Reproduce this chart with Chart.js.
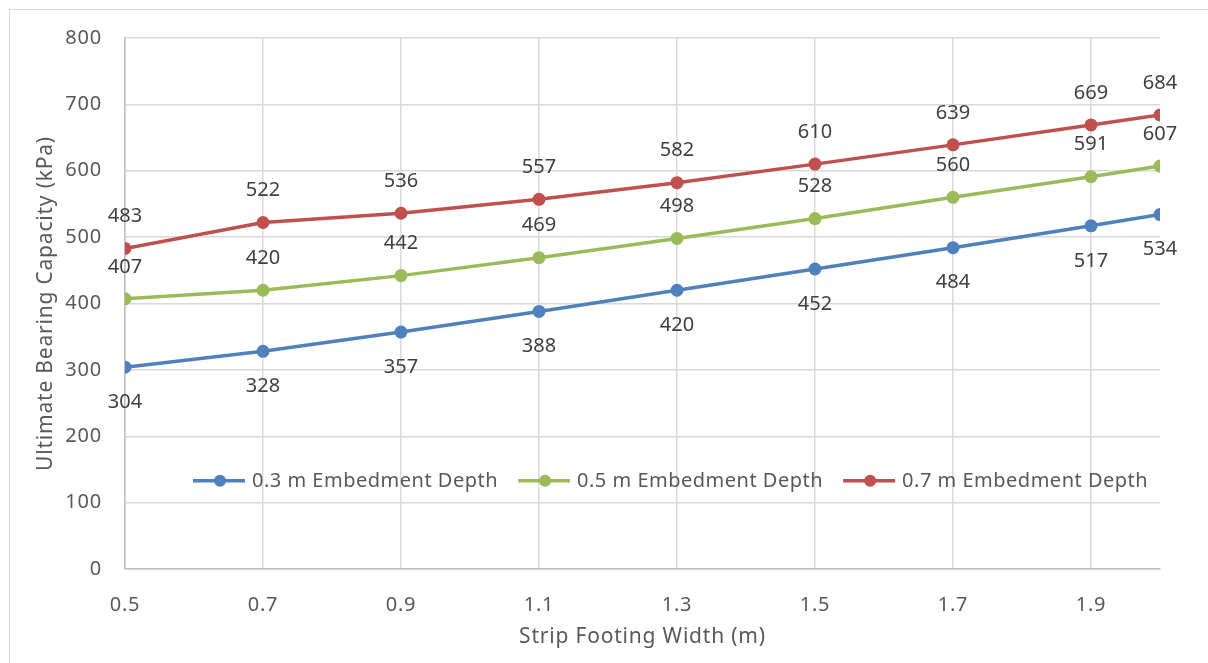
<!DOCTYPE html>
<html>
<head>
<meta charset="utf-8">
<script src="https://cdn.jsdelivr.net/npm/chart.js@4"></script>
<style>
  html, body { margin: 0; padding: 0; background: #fff; overflow: hidden; }
  #frame { position: absolute; left: 9px; top: 9px; width: 1400px; height: 900px; border: 1px solid #d9d9d9; }
  #wrap { position: absolute; left: 0; top: 0; width: 1208px; height: 663px; }
</style>
</head>
<body>
<div id="frame"></div>
<div id="wrap"><canvas id="bearingChart"></canvas></div>
<script>
// footing widths (m)
const widths = [0.5, 0.7, 0.9, 1.1, 1.3, 1.5, 1.7, 1.9, 2.0];
const xTicks = [0.5, 0.7, 0.9, 1.1, 1.3, 1.5, 1.7, 1.9];
const yTicks = [0, 100, 200, 300, 400, 500, 600, 700, 800];

const depth03 = [304, 328, 357, 388, 420, 452, 484, 517, 534];
const depth05 = [407, 420, 442, 469, 498, 528, 560, 591, 607];
const depth07 = [483, 522, 536, 557, 582, 610, 639, 669, 684];

const seriesNames = ['0.3 m Embedment Depth', '0.5 m Embedment Depth', '0.7 m Embedment Depth'];
const seriesColors = ['#4f81bd', '#9bbb59', '#c0504d'];
const labelSide = ['below', 'above', 'above'];

const FONT = '"Noto Sans", "Open Sans", sans-serif';

function toPoints(vals) {
    return vals.map((v, i) => ({ x: widths[i], y: v }));
}

// wider letter spacing, closer to the original office font
const spacing = {
    id: 'spacing',
    beforeDraw(chart) { chart.ctx.letterSpacing = '0.8px'; }
};

// value labels next to every point
const valueLabels = {
    id: 'valueLabels',
    afterDatasetsDraw(chart) {
        const ctx = chart.ctx;
        ctx.save();
        ctx.font = '20px ' + FONT;
        ctx.letterSpacing = '0px';
        ctx.fillStyle = '#404040';
        ctx.textAlign = 'center';
        ctx.textBaseline = 'middle';
        chart.data.datasets.forEach((ds, di) => {
            const meta = chart.getDatasetMeta(di);
            meta.data.forEach((pt, i) => {
                const off = labelSide[di] === 'above' ? -32 : 35;
                ctx.fillText(String(ds.data[i].y), pt.x, pt.y + off);
            });
        });
        ctx.restore();
    }
};

// legend sitting inside the plot area, like the original
const innerLegend = {
    id: 'innerLegend',
    afterDraw(chart) {
        const ctx = chart.ctx;
        const y = chart.scales.y.getPixelForValue(133);
        let x = 193;
        ctx.save();
        ctx.font = '20px ' + FONT;
        ctx.textBaseline = 'middle';
        ctx.letterSpacing = '0.5px';
        chart.data.datasets.forEach((ds, di) => {
            ctx.strokeStyle = ds.borderColor;
            ctx.lineWidth = 3.5;
            ctx.beginPath();
            ctx.moveTo(x, y);
            ctx.lineTo(x + 52, y);
            ctx.stroke();
            ctx.fillStyle = ds.borderColor;
            ctx.beginPath();
            ctx.arc(x + 27, y, 6, 0, Math.PI * 2);
            ctx.fill();
            ctx.fillStyle = '#595959';
            ctx.fillText(ds.label, x + 59, y + 1);
            x += 59 + ctx.measureText(ds.label).width + 20;
        });
        ctx.restore();
    }
};

new Chart(document.getElementById('bearingChart').getContext('2d'), {
    type: 'line',
    data: {
        datasets: [depth03, depth05, depth07].map((vals, i) => ({
            label: seriesNames[i],
            data: toPoints(vals),
            borderColor: seriesColors[i],
            backgroundColor: seriesColors[i],
            borderWidth: 3.5,
            pointRadius: 6.5,
            pointBorderWidth: 0,
            pointBackgroundColor: seriesColors[i],
            tension: 0,
            fill: false
        }))
    },
    options: {
        responsive: true,
        maintainAspectRatio: false,
        animation: false,
        events: [],
        layout: { padding: { left: 33, top: 38, right: 48, bottom: 13 } },
        plugins: { legend: { display: false }, tooltip: { enabled: false } },
        scales: {
            x: {
                type: 'linear',
                min: 0.5,
                max: 2.0,
                afterBuildTicks: scale => { scale.ticks = xTicks.map(v => ({ value: v })); },
                afterFit: scale => { scale.height = 81; },
                grid: { color: '#d9d9d9', lineWidth: 1.5, drawTicks: false },
                border: { color: '#bfbfbf', width: 1.5 },
                ticks: {
                    padding: 24,
                    color: '#595959',
                    font: { family: FONT, size: 20 },
                    maxRotation: 0,
                    callback: v => v.toFixed(1)
                },
                title: {
                    display: true,
                    text: 'Strip Footing Width (m)',
                    color: '#595959',
                    font: { family: FONT, size: 21 },
                    padding: 0
                }
            },
            y: {
                min: 0,
                max: 800,
                afterBuildTicks: scale => { scale.ticks = yTicks.map(v => ({ value: v })); },
                afterFit: scale => { scale.width = 92; },
                grid: { color: '#d9d9d9', lineWidth: 1.5, drawTicks: false },
                border: { color: '#bfbfbf', width: 1.5 },
                ticks: {
                    padding: 23,
                    color: '#595959',
                    font: { family: FONT, size: 20 }
                },
                title: {
                    display: true,
                    text: 'Ultimate Bearing Capacity (kPa)',
                    color: '#595959',
                    font: { family: FONT, size: 21 },
                    padding: 0
                }
            }
        }
    },
    plugins: [spacing, valueLabels, innerLegend]
});
</script>
</body>
</html>
